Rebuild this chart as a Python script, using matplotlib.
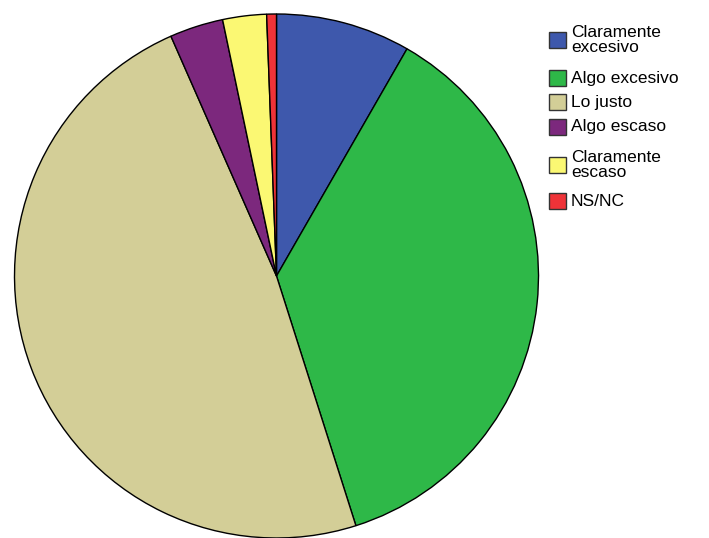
import matplotlib.pyplot as plt
from matplotlib.patches import Rectangle

# Data
categories = ["Claramente\nexcesivo", "Algo excesivo", "Lo justo",
              "Algo escaso", "Claramente\nescaso", "NS/NC"]
percentages = [8.3, 36.8, 48.3, 3.3, 2.7, 0.6]
colors = ["#3E58AC", "#2EB848", "#D3CE97", "#7C287D", "#FBF873", "#EF3338"]

plt.rcParams["font.family"] = ["Liberation Sans", "DejaVu Sans"]

W, H = 709, 538
fig = plt.figure(figsize=(W / 100, H / 100), dpi=100)

# Pie placed by pixel center and radius
cx, cy, r = 276.5, 276, 262
ax = fig.add_axes([(cx - r) / W, (H - cy - r) / H, 2 * r / W, 2 * r / H])
wedges, _ = ax.pie(percentages, colors=colors, startangle=90, counterclock=False,
                   radius=1, wedgeprops=dict(edgecolor="black", linewidth=1.0))
for w in wedges:
    w.set_clip_on(False)
ax.set_xlim(-1, 1)
ax.set_ylim(-1, 1)
ax.axis("off")

# Legend drawn by hand (rows are spaced unevenly in the original)
row_y = [40, 78, 102, 127, 165, 201]
box_w, box_h = 17, 16
for label, col, yc in zip(categories, colors, row_y):
    fig.add_artist(Rectangle((549 / W, 1 - (yc + box_h / 2) / H), box_w / W, box_h / H,
                             transform=fig.transFigure, facecolor=col,
                             edgecolor="#333333", linewidth=1.0))
    fig.text(571 / W, 1 - yc / H, label, fontsize=12.5, va="center", ha="left",
             linespacing=1.0)

fig.savefig("out.png", dpi=100)
